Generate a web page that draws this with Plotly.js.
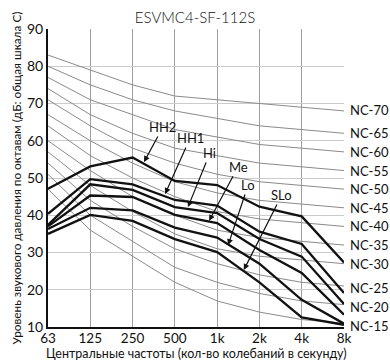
<!DOCTYPE html>
<html><head><meta charset="utf-8">
<script src="https://cdn.plot.ly/plotly-3.0.1.min.js"></script>
<style>html,body{margin:0;padding:0;background:#fff}#c{width:390px;height:362px}</style>
</head><body><div id="c"></div>
<script>
const freqs = ["63","125","250","500","1k","2k","4k","8k"];
const ncNames = ["NC-15","NC-20","NC-25","NC-30","NC-35","NC-40","NC-45","NC-50","NC-55","NC-60","NC-65","NC-70"];
const nc15 = [47,36,29,22,17,14,12,11];
const nc20 = [51,40,33,26,22,19,17,16];
const nc25 = [54,44,37,31,27,24,22,21];
const nc30 = [57,48,41,35,31,29,28,27];
const nc35 = [60,52,45,40,36,34,33,32];
const nc40 = [64,56,50,45,41,39,38,37];
const nc45 = [67,60,54,49,46,44,43,42];
const nc50 = [71,64,58,54,51,49,48,47];
const nc55 = [74,67,62,58,56,54,53,52];
const nc60 = [77,71,67,63,61,59,58,57];
const nc65 = [80,75,71,68,66,64,63,62];
const nc70 = [83,79,75,72,71,70,69,68];
const ncLabelY = [10.3,15.4,20.5,27,32,37,42,47,52,57,62,68.2];

const modeNames = ["HH2","HH1","Hi","Me","Lo","SLo"];
const hh2 = [47.1,53.1,55.5,49.2,48.1,42.3,39.7,27.3];
const hh1 = [40.4,49.7,48.3,44.1,42.6,35.6,32.3,19.1];
const hi  = [37.4,48.3,46.8,42.2,40.6,33.6,28.9,16.2];
const me  = [37.0,45.3,44.9,40.1,37.9,30.7,24.5,13.3];
const lo  = [36.3,42.0,41.3,36.7,34.0,27.0,17.3,10.9];
const slo = [35.0,40.1,38.5,33.6,30.1,22.0,12.6,10.6];

// arrow tips (x index, value) and text offsets
const arrowX = [2.27,2.77,3.31,3.81,4.26,4.63];
const arrowY = [54.3,45.7,42.2,38.5,32.0,25.3];
const arrowAX = [19,25,22,29,20,38];
const arrowAY = [-35,-56,-54,-54,-60,-75];

const xTitle = "Центральные частоты (кол-во колебаний в секунду)";
const yTitle = "Уровень звукового давления по октавам (дБ: общая шкала С)";

const xi = freqs.map((f,i)=>i);
const ncSets = [nc15,nc20,nc25,nc30,nc35,nc40,nc45,nc50,nc55,nc60,nc65,nc70];
const modeSets = [hh2,hh1,hi,me,lo,slo];
const FONT = "Lato, 'Noto Sans', sans-serif";

const traces = [];
ncSets.forEach((s,k)=>traces.push({x:xi,y:s,mode:"lines",line:{color:"#8a8a8a",width:1},name:ncNames[k],hoverinfo:"skip"}));
modeSets.forEach((s,k)=>traces.push({x:xi,y:s,mode:"lines",line:{color:"#111",width:2.3},name:modeNames[k]}));

const ann = [];
ncNames.forEach((n,k)=>ann.push({x:7,y:ncLabelY[k],xref:"x",yref:"y",text:n,showarrow:false,xanchor:"left",xshift:4,font:{size:13,color:"#111",family:FONT}}));
modeNames.forEach((n,k)=>ann.push({x:arrowX[k],y:arrowY[k],xref:"x",yref:"y",text:n,showarrow:true,ax:arrowAX[k],ay:arrowAY[k],arrowhead:2,arrowsize:1,arrowwidth:1.2,arrowcolor:"#111",standoff:0,font:{size:13,color:"#111",family:FONT}}));
ann.push({x:0.5,y:0,xref:"paper",yref:"paper",yshift:-26,xanchor:"center",yanchor:"middle",showarrow:false,text:xTitle,font:{size:12.5,family:FONT,color:"#111"}});

const layout = {
  width:390,height:362,
  margin:{l:48,r:46,t:29,b:35},
  paper_bgcolor:"#fff",plot_bgcolor:"#fff",
  showlegend:false,
  font:{family:FONT,color:"#111"},
  title:{text:"ESVMC4-SF-112S",x:0.5,xanchor:"center",y:0.952,yanchor:"middle",font:{size:15,family:FONT,color:"#111",weight:300}},
  xaxis:{range:[0,7],tickmode:"array",tickvals:xi,ticktext:freqs,showgrid:true,gridcolor:"#a0a0a0",gridwidth:1,
    zeroline:false,showline:true,linecolor:"#111",linewidth:1.5,ticks:"",tickfont:{size:13.5,family:FONT},ticklabelstandoff:-2},
  yaxis:{range:[10,90],dtick:10,showgrid:true,gridcolor:"#ccc",gridwidth:1,zeroline:false,showline:true,linecolor:"#111",linewidth:2,
    ticks:"",tickfont:{size:14,family:FONT},
    title:{text:yTitle,font:{size:11.8,family:FONT},standoff:3}},
  annotations:ann
};
Plotly.newPlot("c",traces,layout,{displayModeBar:false,staticPlot:true});
</script></body></html>
